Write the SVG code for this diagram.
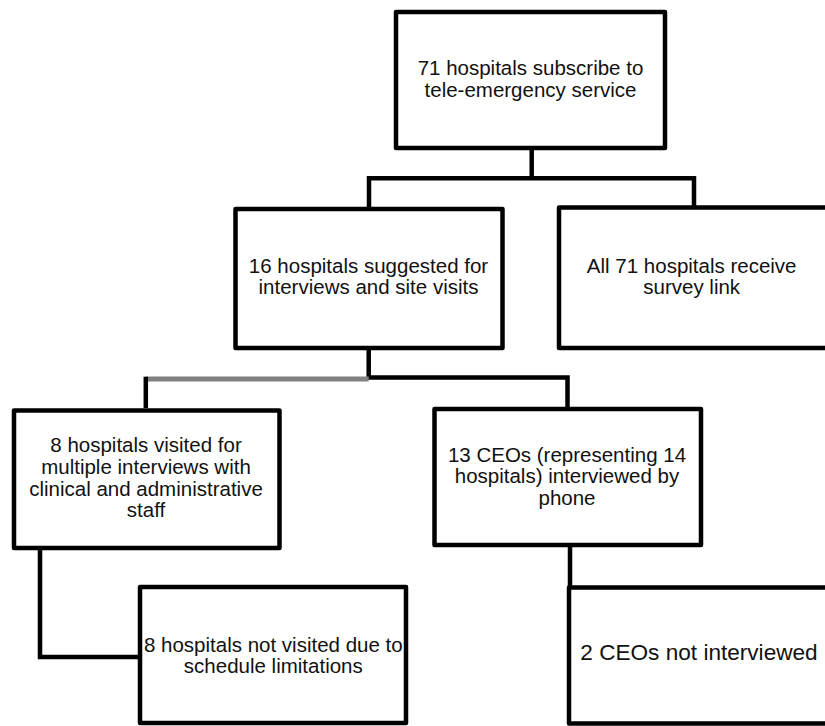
<svg xmlns="http://www.w3.org/2000/svg" width="825" height="726" viewBox="0 0 825 726">
<style>
.box{fill:#fff;stroke:#000;stroke-width:4.5;stroke-linejoin:round}
.t{font-family:"Liberation Sans",Arial,sans-serif;font-size:20.5px;fill:#111;text-anchor:middle}
.c{fill:none;stroke:#000;stroke-width:4.5;stroke-linejoin:miter}
</style>
<rect width="825" height="726" fill="#fff"/>
<g id="connectors">
<path class="c" d="M531.7,150 V178.3"/>
<path class="c" d="M369,209 V178.3 H694 V207"/>
<path class="c" d="M368.7,350 V377.5 H567.5 V408"/>
<path d="M146,379 H368.7" fill="none" stroke="#808080" stroke-width="5"/>
<path class="c" d="M145.8,408 V376.7"/>
<path class="c" d="M40,550 V657 H140"/>
<path class="c" d="M570,547 V588"/>
</g>
<g id="n1">
<rect class="box" x="396" y="12" width="269" height="136"/>
<text class="t" x="530.5" y="75">71 hospitals subscribe to</text>
<text class="t" x="530.5" y="96.5">tele-emergency service</text>
</g>
<g id="n2">
<rect class="box" x="235.5" y="209" width="267" height="139"/>
<text class="t" x="368.5" y="272.5">16 hospitals suggested for</text>
<text class="t" x="368.5" y="294">interviews and site visits</text>
</g>
<g id="n3">
<rect class="box" x="559" y="207.5" width="270" height="140.5"/>
<text class="t" x="691.7" y="273">All 71 hospitals receive</text>
<text class="t" x="691.7" y="294">survey link</text>
</g>
<g id="n4">
<rect class="box" x="14" y="410.5" width="265.5" height="137.5"/>
<text class="t" x="146" y="452">8 hospitals visited for</text>
<text class="t" x="146" y="474">multiple interviews with</text>
<text class="t" x="146" y="495.5">clinical and administrative</text>
<text class="t" x="146" y="517">staff</text>
</g>
<g id="n5">
<rect class="box" x="434.5" y="409" width="266.5" height="136"/>
<text class="t" x="567" y="461.5">13 CEOs (representing 14</text>
<text class="t" x="567" y="483">hospitals) interviewed by</text>
<text class="t" x="567" y="504.5">phone</text>
</g>
<g id="n6">
<rect class="box" x="140" y="587" width="266" height="136"/>
<text class="t" x="273.3" y="651.5">8 hospitals not visited due to</text>
<text class="t" x="273.3" y="673">schedule limitations</text>
</g>
<g id="n7">
<rect class="box" x="569" y="587.5" width="270" height="136"/>
<text class="t" x="699" y="660" style="font-size:22.6px">2 CEOs not interviewed</text>
</g>
</svg>
